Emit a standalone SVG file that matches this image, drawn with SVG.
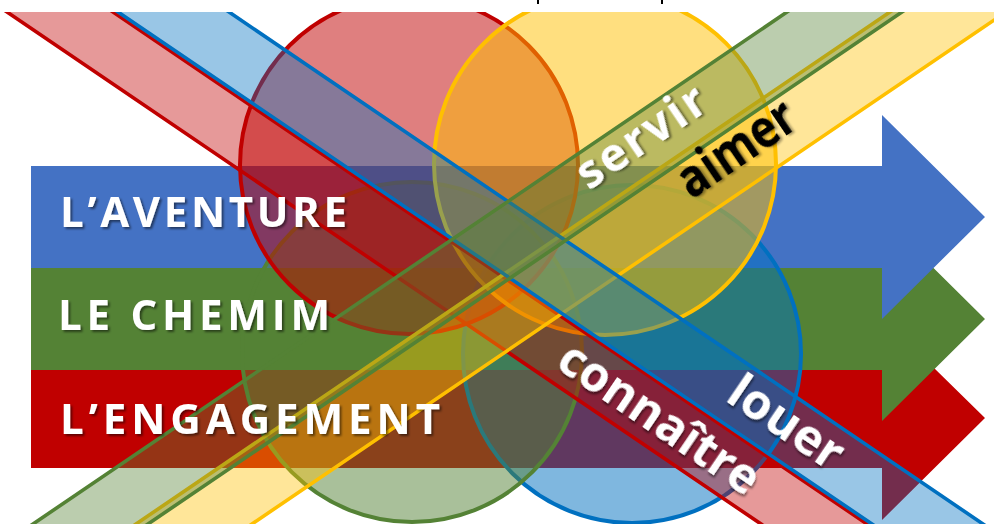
<svg xmlns="http://www.w3.org/2000/svg" width="994" height="524" viewBox="0 0 994 524">
<defs>
<clipPath id="clip"><rect x="0" y="12" width="994" height="512"/></clipPath>
<filter id="sh" x="-10%" y="-40%" width="130%" height="180%"><feDropShadow dx="2" dy="2" stdDeviation="1.3" flood-color="#000" flood-opacity="0.5"/></filter>
<filter id="shd" x="-10%" y="-40%" width="130%" height="180%"><feDropShadow dx="2" dy="2" stdDeviation="1.3" flood-color="#000" flood-opacity="0.35"/></filter>
</defs>
<style>
.circ{stroke-width:4;fill-opacity:0.5}
.band{stroke-width:3.6;fill-opacity:0.4}
.lbl{font-family:"Open Sans","Liberation Sans",sans-serif;font-weight:700;font-size:42px;fill:#fff}
.word{font-family:"Open Sans","Liberation Sans",sans-serif;font-weight:700}
</style>
<rect width="994" height="524" fill="#fff"/>
<rect x="537" y="0" width="2" height="4" fill="#000"/>
<rect x="661" y="0" width="2" height="4" fill="#000"/>
<g clip-path="url(#clip)">
<g id="arrows">
<polygon id="arrow-red" points="31,370 882,370 882,317 985,418 882,520 882,468 31,468" fill="#C00000"/>
<polygon id="arrow-green" points="31,268 882,268 882,217 985,319 882,421 882,370 31,370" fill="#548235"/>
<polygon id="arrow-blue" points="31,166 882,166 882,115 985,217 882,319 882,268 31,268" fill="#4472C4"/>
</g>
<g id="circles">
<circle id="circle-blue" class="circ" cx="632" cy="354" r="169" fill="#0070C0" stroke="#0070C0"/>
<circle id="circle-green" class="circ" cx="412" cy="352" r="170" fill="#548235" stroke="#548235"/>
<circle id="circle-red" class="circ" cx="409" cy="165" r="169" fill="#C00000" stroke="#C00000"/>
<circle id="circle-yellow" class="circ" cx="605" cy="164" r="171" fill="#FFC000" stroke="#FFC000"/>
</g>
<g id="bands">
<polygon id="band-pink" class="band" points="-40.1,-20 65.9,-20 920,560 814,560" fill="#C00000" stroke="#C00000"/>
<polygon id="band-yellow" class="band" points="937.1,-20 1053.1,-20 199,560 83,560" fill="#FFC000" stroke="#FFC000"/>
<polygon id="band-blue" class="band" points="70.9,-20 181.9,-20 1036,560 925,560" fill="#0070C0" stroke="#0070C0"/>
<polygon id="band-green" class="band" points="834.1,-20 949.1,-20 95,560 -20,560" fill="#548235" stroke="#548235"/>
</g>
</g>
<g id="labels">
<text class="lbl" x="60" y="227" textLength="287" lengthAdjust="spacing" filter="url(#sh)">L’AVENTURE</text>
<text class="lbl" x="58" y="330" textLength="272" lengthAdjust="spacing" filter="url(#sh)">LE CHEMIM</text>
<text class="lbl" x="60" y="434" textLength="380" lengthAdjust="spacing" filter="url(#sh)">L’ENGAGEMENT</text>
</g>
<g id="words">
<text class="word" transform="translate(651,149) rotate(-34.18)" text-anchor="middle" font-size="46" font-weight="600" letter-spacing="3" fill="#fff" filter="url(#sh)">servir</text>
<text class="word" transform="translate(746,163) rotate(-34.18)" text-anchor="middle" font-size="54" textLength="132" lengthAdjust="spacingAndGlyphs" fill="#000" filter="url(#shd)">aimer</text>
<text class="word" transform="translate(650,432) rotate(34.18)" text-anchor="middle" font-size="48" fill="#fff" filter="url(#sh)">connaître</text>
<text class="word" transform="translate(777,436) rotate(34.18)" text-anchor="middle" font-size="49" fill="#fff" filter="url(#sh)">louer</text>
</g>
</svg>
